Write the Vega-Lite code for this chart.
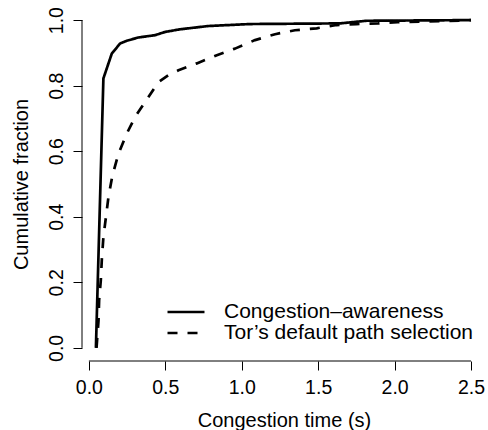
{
  "$schema": "https://vega.github.io/schema/vega-lite/v6.json",
  "width": 404,
  "height": 354,
  "autosize": "none",
  "padding": {"left": 82, "top": 7, "right": 2, "bottom": 69},
  "background": "white",
  "config": {
    "view": {"stroke": null},
    "font": "Liberation Sans",
    "axis": {"grid": false, "domain": false, "tickColor": "#000", "tickSize": 9, "tickWidth": 1, "labelColor": "#000", "titleColor": "#000", "labelFontSize": 19.5, "titleFontSize": 20, "titleFontWeight": "normal", "labelFont": "Liberation Sans", "titleFont": "Liberation Sans"}
  },
  "datasets": {
    "curves": [
      {"series": "Congestion–awareness", "time": 0.046, "frac": 0.0},
      {"series": "Congestion–awareness", "time": 0.095, "frac": 0.822},
      {"series": "Congestion–awareness", "time": 0.15, "frac": 0.898},
      {"series": "Congestion–awareness", "time": 0.205, "frac": 0.929},
      {"series": "Congestion–awareness", "time": 0.248, "frac": 0.937},
      {"series": "Congestion–awareness", "time": 0.324, "frac": 0.947},
      {"series": "Congestion–awareness", "time": 0.433, "frac": 0.954},
      {"series": "Congestion–awareness", "time": 0.499, "frac": 0.964},
      {"series": "Congestion–awareness", "time": 0.597, "frac": 0.972},
      {"series": "Congestion–awareness", "time": 0.782, "frac": 0.982},
      {"series": "Congestion–awareness", "time": 1.054, "frac": 0.988},
      {"series": "Congestion–awareness", "time": 1.643, "frac": 0.99},
      {"series": "Congestion–awareness", "time": 1.817, "frac": 0.998},
      {"series": "Congestion–awareness", "time": 2.5, "frac": 1.0},
      {"series": "Tor’s default path selection", "time": 0.05, "frac": 0.0},
      {"series": "Tor’s default path selection", "time": 0.063, "frac": 0.083},
      {"series": "Tor’s default path selection", "time": 0.067, "frac": 0.145},
      {"series": "Tor’s default path selection", "time": 0.078, "frac": 0.206},
      {"series": "Tor’s default path selection", "time": 0.085, "frac": 0.272},
      {"series": "Tor’s default path selection", "time": 0.095, "frac": 0.338},
      {"series": "Tor’s default path selection", "time": 0.113, "frac": 0.404},
      {"series": "Tor’s default path selection", "time": 0.128, "frac": 0.46},
      {"series": "Tor’s default path selection", "time": 0.154, "frac": 0.526},
      {"series": "Tor’s default path selection", "time": 0.194, "frac": 0.593},
      {"series": "Tor’s default path selection", "time": 0.248, "frac": 0.654},
      {"series": "Tor’s default path selection", "time": 0.303, "frac": 0.705},
      {"series": "Tor’s default path selection", "time": 0.379, "frac": 0.758},
      {"series": "Tor’s default path selection", "time": 0.455, "frac": 0.811},
      {"series": "Tor’s default path selection", "time": 0.52, "frac": 0.832},
      {"series": "Tor’s default path selection", "time": 0.586, "frac": 0.847},
      {"series": "Tor’s default path selection", "time": 0.706, "frac": 0.868},
      {"series": "Tor’s default path selection", "time": 0.837, "frac": 0.893},
      {"series": "Tor’s default path selection", "time": 0.956, "frac": 0.913},
      {"series": "Tor’s default path selection", "time": 1.087, "frac": 0.939},
      {"series": "Tor’s default path selection", "time": 1.218, "frac": 0.957},
      {"series": "Tor’s default path selection", "time": 1.348, "frac": 0.969},
      {"series": "Tor’s default path selection", "time": 1.49, "frac": 0.975},
      {"series": "Tor’s default path selection", "time": 1.62, "frac": 0.985},
      {"series": "Tor’s default path selection", "time": 1.75, "frac": 0.988},
      {"series": "Tor’s default path selection", "time": 1.893, "frac": 0.99},
      {"series": "Tor’s default path selection", "time": 2.02, "frac": 0.994},
      {"series": "Tor’s default path selection", "time": 2.19, "frac": 0.996},
      {"series": "Tor’s default path selection", "time": 2.318, "frac": 0.997},
      {"series": "Tor’s default path selection", "time": 2.46, "frac": 0.999},
      {"series": "Tor’s default path selection", "time": 2.5, "frac": 1.0}
    ],
    "xaxis": [{"x0": 0, "x1": 2.5, "y": -0.04}],
    "yaxis": [{"y0": 0, "y1": 1, "x": -0.045}]
  },
  "layer": [
    {
      "data": {"name": "xaxis"},
      "mark": {"type": "rule", "color": "#000", "strokeWidth": 1},
      "encoding": {
        "x": {"field": "x0", "type": "quantitative", "scale": {"domain": [-0.045, 2.598], "nice": false, "zero": false}, "axis": {"values": [0, 0.5, 1, 1.5, 2, 2.5], "format": ".1f", "title": "Congestion time (s)", "labelPadding": 8, "titlePadding": 14}},
        "x2": {"field": "x1"},
        "y": {"field": "y", "type": "quantitative", "scale": {"domain": [-0.04, 1.04], "nice": false, "zero": false}, "axis": {"values": [0, 0.2, 0.4, 0.6, 0.8, 1], "format": ".1f", "title": "Cumulative fraction", "labelAngle": -90, "labelAlign": "center", "labelBaseline": "alphabetic", "labelPadding": 11, "titlePadding": 15}}
      }
    },
    {
      "data": {"name": "yaxis"},
      "mark": {"type": "rule", "color": "#000", "strokeWidth": 1},
      "encoding": {
        "x": {"field": "x", "type": "quantitative"},
        "y": {"field": "y0", "type": "quantitative"},
        "y2": {"field": "y1"}
      }
    },
    {
      "data": {"name": "curves"},
      "mark": {"type": "line", "color": "#000", "strokeWidth": 2.7, "strokeJoin": "round"},
      "encoding": {
        "x": {"field": "time", "type": "quantitative"},
        "y": {"field": "frac", "type": "quantitative"},
        "strokeDash": {
          "field": "series", "type": "nominal",
          "scale": {"domain": ["Congestion–awareness", "Tor’s default path selection"], "range": [[1, 0], [10, 10]]},
          "legend": {"title": null, "orient": "none", "legendX": 93, "legendY": 294, "symbolType": "M-2,0H2", "symbolSize": 342, "symbolStrokeWidth": 2.7, "symbolStrokeColor": "#000", "labelFontSize": 21, "labelFont": "Liberation Sans", "labelColor": "#000", "labelOffset": 27, "padding": 0, "rowPadding": -4, "labelLimit": 400}
        }
      }
    }
  ]
}
